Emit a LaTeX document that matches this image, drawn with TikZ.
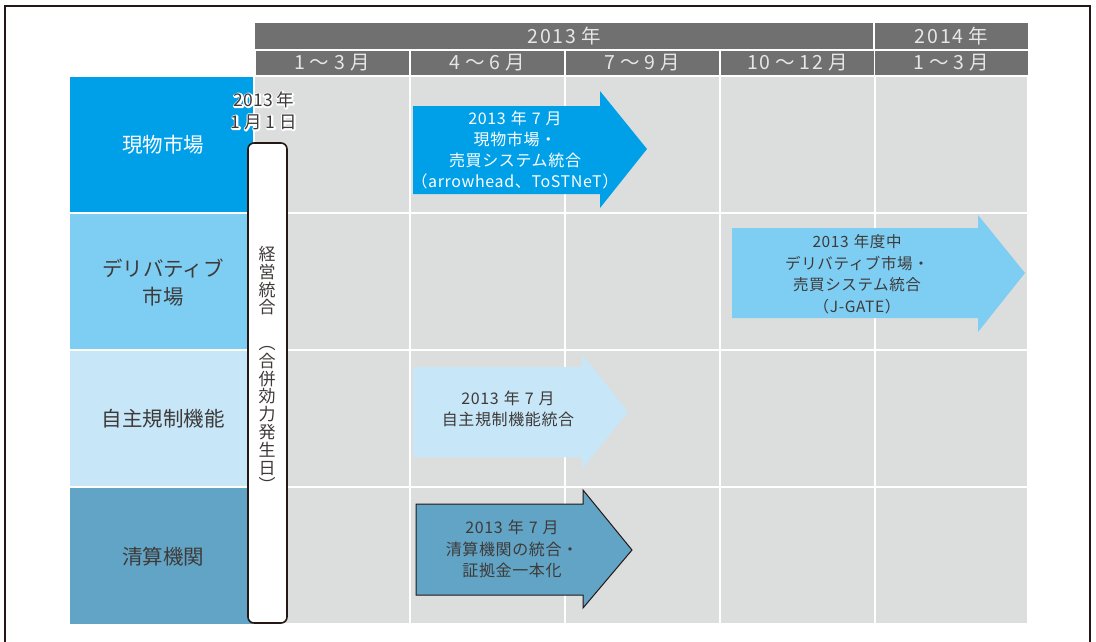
\documentclass[tikz,border=0pt]{standalone}
\usepackage{fontspec}
\setmainfont{Noto Sans CJK JP}
\newfontfamily\hdrfont[LetterSpace=9]{Noto Sans CJK JP}
\newfontfamily\arrfont[LetterSpace=4]{Noto Sans CJK JP}
\usetikzlibrary{calc}
\definecolor{hdr}{HTML}{717071}
\definecolor{hdrtxt}{HTML}{E6E6E6}
\definecolor{cell}{HTML}{DCDDDD}
\definecolor{rowA}{HTML}{00A0E9}
\definecolor{rowB}{HTML}{7ECEF4}
\definecolor{rowC}{HTML}{C7E7F8}
\definecolor{rowD}{HTML}{62A4C5}
\definecolor{ink}{HTML}{3E3A39}
\definecolor{framec}{HTML}{231815}
\newcommand{\gapx}{\hspace{5pt}}
\tikzset{
  hdrcell/.style={fill=hdr, text=hdrtxt, inner sep=0pt, outer sep=0pt,
    font=\hdrfont\fontsize{19.5}{20}\selectfont},
  rowlabel/.style={inner sep=0pt, outer sep=0pt, align=center,
    font=\fontsize{20.5}{28}\selectfont},
  gridline/.style={white, line width=2pt},
  arrowtext/.style={align=center, inner sep=0pt, text=ink,
    font=\arrfont\fontsize{16}{21.2}\selectfont},
  datetext/.style={align=center, inner sep=0pt,
    font=\fontsize{17.5}{22}\selectfont},
}
\begin{document}
\begin{tikzpicture}[x=1pt,y=-1pt]
\useasboundingbox (0,0) rectangle (1096,641);
\fill[white] (0,0) rectangle (1096,641);
% outer frame
\draw[framec, line width=2pt] (5,660) -- (5,6) -- (1090,6) -- (1090,660);
% header
\node[hdrcell, minimum width=618pt, minimum height=26pt] (y2013) at (564,36) {2013\gapx 年};
\node[hdrcell, minimum width=153pt, minimum height=26pt] (y2014) at (951.5,36) {2014\gapx 年};
\node[hdrcell, minimum width=153pt, minimum height=24pt] (m1) at (332,63) {1\gapx ～\gapx 3\gapx 月};
\node[hdrcell, minimum width=153pt, minimum height=24pt] (m2) at (487.5,63) {4\gapx ～\gapx 6\gapx 月};
\node[hdrcell, minimum width=153pt, minimum height=24pt] (m3) at (642.5,63) {7\gapx ～\gapx 9\gapx 月};
\node[hdrcell, minimum width=153pt, minimum height=24pt] (m4) at (797.5,63) {10\gapx ～\gapx 12\gapx 月};
\node[hdrcell, minimum width=153pt, minimum height=24pt] (m5) at (951.5,63) {1\gapx ～\gapx 3\gapx 月};
% grid
\fill[cell] (255,77) rectangle (1027,623);
\foreach \gx in {410,565,720,875} \draw[gridline] (\gx,77) -- (\gx,623);
\foreach \gy in {213,350,487} \draw[gridline] (255,\gy) -- (1027,\gy);
% row labels
\fill[rowA] (70,77) rectangle (253,212);
\fill[rowB] (70,214) rectangle (253,349);
\fill[rowC] (70,351) rectangle (253,486);
\fill[rowD] (70,488) rectangle (253,624);
\node[rowlabel, text=white] (lA) at (163,145) {現物市場};
\node[rowlabel, text=ink] (lB) at (163,283) {デリバティブ\\市場};
\node[rowlabel, text=ink] (lC) at (163,419) {自主規制機能};
\node[rowlabel, text=ink] (lD) at (163,557) {清算機関};
% vertical box
\node[draw=framec, fill=white, rounded corners=6pt, line width=1.6pt,
  minimum width=39pt, minimum height=480pt, inner sep=0pt] (vbox) at (267.5,383) {};
\node[align=center, inner sep=0pt, text=ink, font=\fontsize{17}{17.8}\selectfont]
  (vtext) at (267,369) {経\\営\\統\\合\\\mbox{}\\︵\\合\\併\\効\\力\\発\\生\\日\\︶};
% date label: white outline (stroked) then dark fill
\node[datetext, text=white] (datehalo) at (264,111)
  {\special{pdf:literal direct 1 Tr 3 w 1 j}2013 年\\1 月 1 日\special{pdf:literal direct 0 Tr 1 w}};
\node[datetext, text=ink] (date) at (264,111) {2013 年\\1 月 1 日};
% arrows
\fill[rowA] (413,106) -- (600,106) -- (600,91) -- (647,149) -- (600,208) -- (600,194) -- (413,194) -- cycle;
\node[arrowtext, text=white] (tA) at (515,150) {2013\gapx 年\gapx 7\gapx 月\\現物市場・\\売買システム統合\\（arrowhead、ToSTNeT）};
\fill[rowB] (732,228) -- (978,228) -- (978,215) -- (1025,273) -- (978,332) -- (978,318) -- (732,318) -- cycle;
\node[arrowtext, font=\arrfont\fontsize{15.5}{21.5}\selectfont] (tB) at (857,274) {2013\gapx 年度中\\デリバティブ市場・\\売買システム統合\\（J-GATE）};
\fill[rowC] (413,367) -- (582,367) -- (582,354) -- (628,412) -- (582,469) -- (582,457) -- (413,457) -- cycle;
\node[arrowtext] (tC) at (508,409) {2013\gapx 年\gapx 7\gapx 月\\自主規制機能統合};
\filldraw[fill=rowD, draw=framec, line width=1pt] (416,504) -- (583,504) -- (583,490) -- (632,550) -- (583,608) -- (583,595) -- (416,595) -- cycle;
\node[arrowtext] (tD) at (512,549) {2013\gapx 年\gapx 7\gapx 月\\清算機関の統合・\\証拠金一本化};
\end{tikzpicture}
\end{document}
